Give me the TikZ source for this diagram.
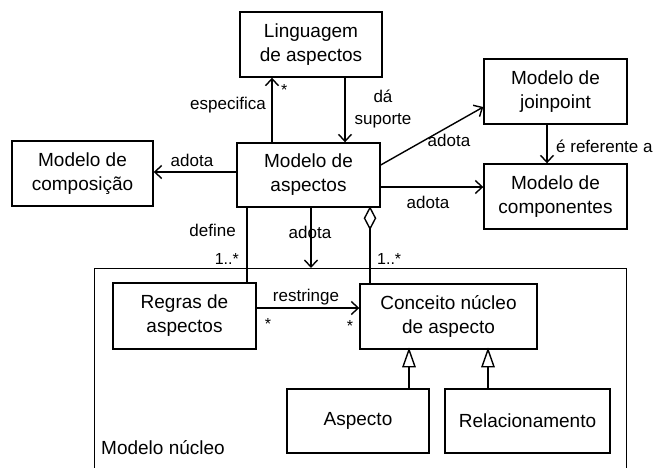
\documentclass[tikz,border=0pt]{standalone}
\usepackage{fontspec}
\setmainfont{Liberation Sans}
\usetikzlibrary{arrows.meta}
\begin{document}
\begin{tikzpicture}[x=1pt,y=-1pt,
  box/.style={draw,line width=1.4pt,align=center,inner sep=0pt,font=\fontsize{19}{24}\selectfont},
  lbl/.style={inner sep=0pt,font=\fontsize{17}{22}\selectfont},
  mult/.style={inner sep=0pt,font=\fontsize{16}{18}\selectfont},
  conn/.style={line width=1.4pt},
  arr/.style={conn,-{Straight Barb[length=7pt,width=13pt,line width=1.4pt]}},
  headshape/.style={line width=1.4pt,fill=white,line join=miter}
]
\clip (0,0) rectangle (654,467);
\fill[white] (0,0) rectangle (654,467);

% outer package
\node[draw,line width=1.4pt,minimum width=532pt,minimum height=230pt,anchor=north west,inner sep=0pt] (core) at (94,268) {};
\node[lbl,font=\fontsize{19}{24}\selectfont,anchor=base west] (corelbl) at (101,454) {Modelo núcleo};

% boxes
\node[box,minimum width=142pt,minimum height=65pt] (ling) at (311,44.5) {Linguagem\\de aspectos};
\node[box,minimum width=141pt,minimum height=65pt] (comp) at (82.5,173.5) {Modelo de\\composição};
\node[box,minimum width=143pt,minimum height=64pt] (asp) at (308.5,175) {Modelo de\\aspectos};
\node[box,minimum width=143pt,minimum height=65pt] (join) at (555.5,91.5) {Modelo de\\joinpoint};
\node[box,minimum width=143pt,minimum height=65pt] (compn) at (555.5,196.5) {Modelo de\\componentes};
\node[box,minimum width=143pt,minimum height=66pt] (regras) at (184.5,316) {Regras de\\aspectos};
\node[box,minimum width=177pt,minimum height=65pt] (conc) at (448.5,316.5) {Conceito núcleo\\de aspecto};
\node[box,minimum width=142pt,minimum height=64pt] (aspecto) at (358,421) {Aspecto};
\node[box,minimum width=165pt,minimum height=64pt] (rel) at (527.5,421) {Relacionamento};

% helper coordinates
\coordinate (xEsp) at (272,0);
\coordinate (xDa) at (345,0);
\coordinate (xDef) at (247,0);
\coordinate (xAd) at (311,0);
\coordinate (xAgg) at (370,0);
\coordinate (xRef) at (547,0);
\coordinate (xGa) at (409,0);
\coordinate (xGb) at (488,0);
\coordinate (yComp) at (0,172);
\coordinate (yJa) at (0,165);
\coordinate (yJb) at (0,107);
\coordinate (yCn) at (0,187);
\coordinate (yRes) at (0,308);

% connectors
\draw[arr] (asp.north -| xEsp) -- (ling.south -| xEsp);
\draw[arr] (ling.south -| xDa) -- (asp.north -| xDa);
\draw[arr] (asp.west |- yComp) -- (comp.east |- yComp);
\draw[arr] (asp.east |- yJa) -- (join.west |- yJb);
\draw[arr] (asp.east |- yCn) -- (compn.west |- yCn);
\draw[arr] (join.south -| xRef) -- (compn.north -| xRef);
\draw[conn] (asp.south -| xDef) -- (regras.north -| xDef);
\draw[arr] (asp.south -| xAd) -- (core.north -| xAd);
\draw[conn] (asp.south -| xAgg) -- (conc.north -| xAgg);
\draw[arr] (regras.east |- yRes) -- (conc.west |- yRes);
\draw[conn] (aspecto.north -| xGa) -- (conc.south -| xGa);
\draw[conn] (rel.north -| xGb) -- (conc.south -| xGb);

% aggregation diamond and generalization triangles
\draw[headshape] (asp.south -| xAgg) -- ++(5.5,10.5) -- ++(-5.5,10.5) -- ++(-5.5,-10.5) -- cycle;
\draw[headshape] (conc.south -| xGa) -- ++(6,17) -- ++(-12,0) -- cycle;
\draw[headshape] (conc.south -| xGb) -- ++(6,17) -- ++(-12,0) -- cycle;

% labels
\node[lbl,anchor=east] (lEsp) at (266,105) {especifica};
\node[mult,anchor=west] (mEsp) at (281,90) {*};
\node[lbl,align=center] (lDa) at (383,109) {dá\\suporte};
\node[lbl] (lComp) at (192,160) {adota};
\node[lbl] (lJoin) at (449,140) {adota};
\node[lbl] (lCn) at (428,202) {adota};
\node[lbl,anchor=west] (lRef) at (556,146) {é referente a};
\node[lbl,anchor=east] (lDef) at (236,230) {define};
\node[mult,anchor=east] (mDef) at (239,259) {1..*};
\node[lbl] (lAd) at (310,232) {adota};
\node[mult,anchor=west] (mAgg) at (377,259) {1..*};
\node[lbl] (lRes) at (306,297) {restringe};
\node[mult] (mRa) at (268,324) {*};
\node[mult] (mRb) at (350,326) {*};
\end{tikzpicture}
\end{document}
